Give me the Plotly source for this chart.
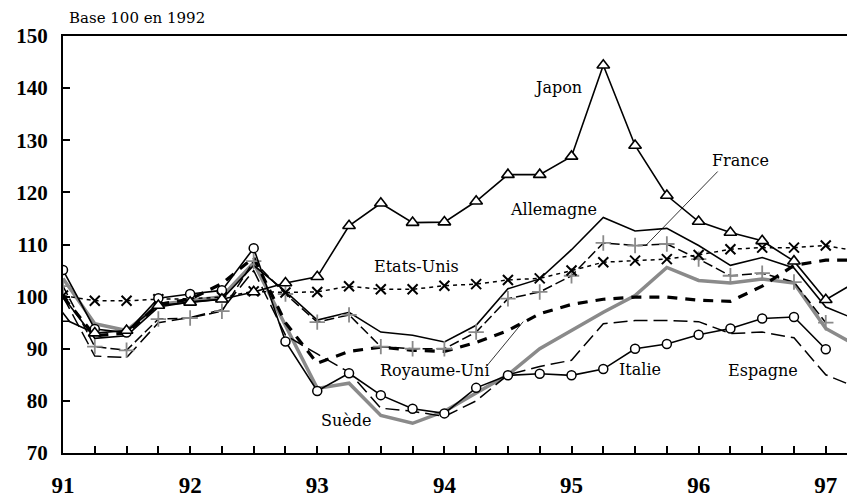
import plotly.graph_objects as go

quarters = [91.0, 91.25, 91.5, 91.75, 92.0, 92.25, 92.5, 92.75,
            93.0, 93.25, 93.5, 93.75, 94.0, 94.25, 94.5, 94.75,
            95.0, 95.25, 95.5, 95.75, 96.0, 96.25, 96.5, 96.75,
            97.0, 97.25]

japon = [95.8, 93.0, 93.5, 98.3, 98.9, 99.5, 100.9, 102.6,
         103.8, 113.6, 117.9, 114.2, 114.3, 118.3, 123.4, 123.4,
         126.9, 144.4, 129.0, 119.4, 114.4, 112.3, 110.7, 106.8,
         99.4, 103.0]
allemagne = [100.0, 92.0, 92.5, 98.0, 99.0, 99.5, 106.0, 101.0,
             95.5, 97.0, 93.2, 92.6, 91.3, 94.5, 101.5, 103.4,
             109.0, 115.2, 112.6, 113.1, 109.8, 106.0, 107.5, 105.5,
             98.0, 95.5]
france = [102.0, 90.4, 89.7, 95.7, 95.9, 97.2, 106.8, 100.5,
          95.1, 96.5, 90.4, 90.0, 90.0, 93.2, 99.6, 100.9,
          104.0, 110.3, 109.8, 110.1, 107.2, 104.0, 104.5, 102.8,
          95.0, None]
etats_unis = [100.2, 99.2, 99.2, 99.5, 99.6, 99.9, 101.0, 100.8,
              100.9, 102.0, 101.4, 101.4, 102.1, 102.4, 103.2, 103.5,
              105.0, 106.6, 106.9, 107.2, 108.0, 109.1, 109.4, 109.4,
              109.8, 108.7]
royaume_uni = [100.0, 92.5, 93.0, 98.5, 99.5, 102.5, 107.5, 95.0,
               87.2, 89.5, 90.3, 89.7, 89.5, 91.2, 93.5, 96.7,
               98.5, 99.5, 99.9, 99.9, 99.3, 99.1, 102.0, 106.0,
               107.0, 107.0]
italie = [105.1, 93.8, 93.1, 99.7, 100.5, 101.2, 109.3, 91.4,
          81.9, 85.3, 81.1, 78.5, 77.6, 82.5, 84.9, 85.2,
          84.9, 86.1, 90.0, 90.9, 92.7, 93.9, 95.8, 96.1,
          89.9, None]
espagne = [100.0, 88.6, 88.3, 95.0, 96.0, 97.5, 105.0, 92.6,
           89.0, 85.5, 78.6, 78.0, 77.0, 80.0, 85.0, 86.6,
           87.8, 94.8, 95.4, 95.4, 95.2, 92.9, 93.2, 92.1,
           85.0, 82.5]
suede = [103.5, 94.8, 93.5, 98.5, 99.2, 100.0, 106.5, 94.5,
         82.4, 83.4, 77.2, 75.7, 78.0, 81.5, 85.0, 90.0,
         93.5, 97.0, 100.2, 105.6, 103.1, 102.6, 103.4, 102.6,
         93.9, 90.5]

y_ticks = [70, 80, 90, 100, 110, 120, 130, 140, 150]
x_labels = {91.0: "91", 92.0: "92", 93.0: "93", 94.0: "94",
            95.0: "95", 96.0: "96", 97.0: "97"}

# series labels: (text, x, y, xanchor)
labels = [
    ("Japon", 94.89, 140.1, "center"),
    ("Allemagne", 94.86, 116.8, "center"),
    ("France", 96.09, 126.1, "left"),
    ("Etats-Unis", 93.78, 105.7, "center"),
    ("Royaume-Uni", 93.93, 85.85, "center"),
    ("Suède", 93.23, 76.3, "center"),
    ("Italie", 95.54, 86.0, "center"),
    ("Espagne", 96.51, 85.85, "center"),
]
leaders = [
    (96.15, 124.0, 95.58, 109.7),   # France
    (94.33, 86.6, 94.62, 95.2),     # Royaume-Uni
]

GRAY = "#8a8a8a"
LABEL_FONT = dict(family="DejaVu Serif", size=16, color="black")

fig = go.Figure()

fig.add_trace(go.Scatter(x=quarters, y=suede, mode="lines", name="Suède",
                         line=dict(color=GRAY, width=3.5)))
fig.add_trace(go.Scatter(x=quarters, y=espagne, mode="lines", name="Espagne",
                         line=dict(color="black", width=1.5, dash="14px,6px")))
fig.add_trace(go.Scatter(x=quarters, y=royaume_uni, mode="lines", name="Royaume-Uni",
                         line=dict(color="black", width=3.2, dash="10px,8px")))
fig.add_trace(go.Scatter(x=quarters, y=allemagne, mode="lines", name="Allemagne",
                         line=dict(color="black", width=1.6)))
fig.add_trace(go.Scatter(x=quarters, y=france, mode="lines+markers", name="France",
                         line=dict(color="black", width=1.5, dash="10px,4px"),
                         marker=dict(symbol="cross-thin", size=11,
                                     line=dict(color=GRAY, width=1.8))))
fig.add_trace(go.Scatter(x=quarters, y=etats_unis, mode="lines+markers", name="Etats-Unis",
                         line=dict(color="black", width=1.5, dash="4px,4px"),
                         marker=dict(symbol="x-thin", size=10,
                                     line=dict(color="black", width=2))))
fig.add_trace(go.Scatter(x=quarters, y=italie, mode="lines+markers", name="Italie",
                         line=dict(color="black", width=1.6),
                         marker=dict(symbol="circle", size=9, color="white",
                                     line=dict(color="black", width=1.5))))
fig.add_trace(go.Scatter(x=quarters, y=japon, mode="lines+markers", name="Japon",
                         line=dict(color="black", width=1.6),
                         marker=dict(symbol="triangle-up", size=11, color="white",
                                     line=dict(color="black", width=1.6))))

for text, x, y, xa in labels:
    fig.add_annotation(x=x, y=y, text=text, showarrow=False, xanchor=xa,
                       yanchor="middle", font=LABEL_FONT)

for x0, y0, x1, y1 in leaders:
    fig.add_shape(type="line", x0=x0, y0=y0, x1=x1, y1=y1,
                  line=dict(color="black", width=0.8))

fig.add_annotation(xref="paper", yref="paper", x=0.005, y=1.042,
                   text="Base 100 en 1992", showarrow=False,
                   xanchor="left", yanchor="middle",
                   font=dict(family="DejaVu Serif", size=15, color="black"))

# page body adds an 8px offset, so the figure is sized to fit the window
fig.update_layout(
    width=847, height=490,
    margin=dict(l=55, r=0, t=28, b=43),
    paper_bgcolor="white", plot_bgcolor="white",
    showlegend=False,
    xaxis=dict(range=[91, 97.23], tickmode="array",
               tickvals=[q for q in quarters if q <= 97],
               ticktext=[x_labels.get(q, "") for q in quarters if q <= 97],
               ticks="inside", ticklen=7, tickwidth=1.5, tickcolor="black",
               showline=True, linecolor="black", linewidth=2, mirror=True,
               showgrid=False, zeroline=False,
               ticklabelstandoff=10,
               tickfont=dict(family="Liberation Serif", size=23, color="black",
                             weight="bold")),
    yaxis=dict(range=[70, 150], tickmode="array", tickvals=y_ticks,
               ticktext=[str(v) for v in y_ticks],
               ticks="inside", ticklen=7, tickwidth=1.5, tickcolor="black",
               showline=True, linecolor="black", linewidth=2,
               showgrid=False, zeroline=False,
               ticklabelstandoff=9,
               tickfont=dict(family="Liberation Serif", size=21, color="black",
                             weight="bold")),
)

fig.write_html("out.html")
